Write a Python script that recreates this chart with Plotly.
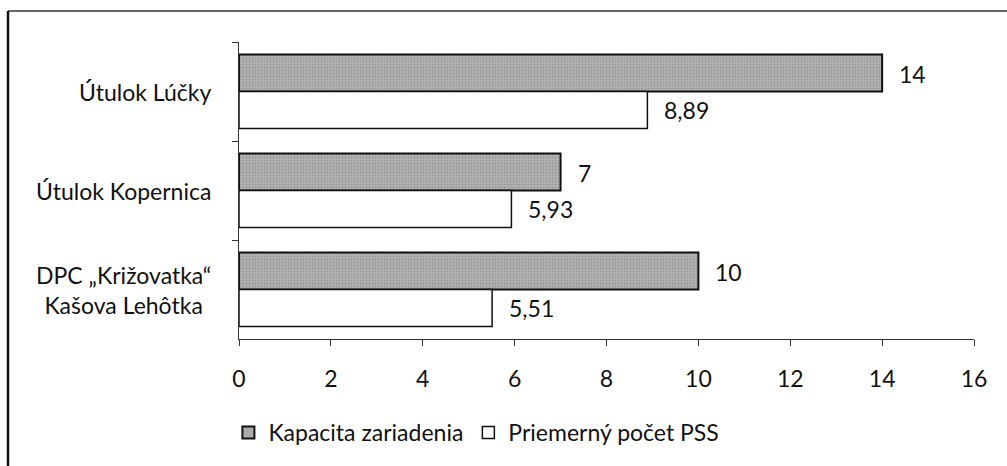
import plotly.graph_objects as go

categories = ["Útulok Lúčky", "Útulok Kopernica", "DPC „Križovatka“<br>Kašova Lehôtka"]
series_names = ["Kapacita zariadenia", "Priemerný počet PSS"]
kapacita = [14, 7, 10]
priemer = [8.89, 5.93, 5.51]
x_ticks = [0, 2, 4, 6, 8, 10, 12, 14, 16]

FONT = "Lato"
fs = 23

def fmt(v):
    s = f"{v:g}"
    return s.replace(".", ",")

fig = go.Figure()
fig.add_trace(go.Bar(
    y=categories, x=kapacita, orientation="h", name=series_names[0],
    marker=dict(color="#a9a9a9", line=dict(color="#111", width=2),
                pattern=dict(shape=".", bgcolor="#b4b4b4", fgcolor="#7a7a7a", size=3, solidity=0.35)),
))
fig.add_trace(go.Bar(
    y=categories, x=priemer, orientation="h", name=series_names[1],
    marker=dict(color="white", line=dict(color="#111", width=1.5)),
))

annotations = []
for cat, v in zip(categories, kapacita):
    annotations.append(dict(x=v, y=cat, xref="x", yref="y", text=fmt(v), showarrow=False,
                            xanchor="left", xshift=15, yshift=18, font=dict(family=FONT, size=fs, color="#111")))
for cat, v in zip(categories, priemer):
    annotations.append(dict(x=v, y=cat, xref="x", yref="y", text=fmt(v), showarrow=False,
                            xanchor="left", xshift=15, yshift=-18, font=dict(family=FONT, size=fs, color="#111")))
for cat in categories:
    annotations.append(dict(x=0, y=cat, xref="paper", yref="y", text=cat, showarrow=False,
                            xanchor="right", xshift=-26, align="center",
                            font=dict(family=FONT, size=fs, color="#111")))

fig.update_layout(
    width=1007, height=466,
    margin=dict(l=239, r=33, t=42, b=127),
    paper_bgcolor="white", plot_bgcolor="white",
    barmode="group", bargap=0.255, bargroupgap=0,
    font=dict(family=FONT, size=fs, color="#111"),
    showlegend=True,
    legend=dict(orientation="h", x=0.323, xanchor="center", y=-0.315, yanchor="middle",
                font=dict(family=FONT, size=fs, color="#111"), itemwidth=30, traceorder="normal"),
    annotations=annotations,
    shapes=[
        dict(type="line", xref="paper", yref="paper", x0=(8 - 239) / 735, x1=1.2,
             y0=(339 - 11) / 297, y1=(339 - 11) / 297, line=dict(color="#333", width=1.5)),
        dict(type="line", xref="paper", yref="paper", x0=(8 - 239) / 735, x1=(8 - 239) / 735,
             y0=(339 - 11) / 297, y1=-0.6, line=dict(color="#111", width=2.5)),
    ],
)
fig.update_xaxes(range=[0, 16], tickvals=x_ticks, ticktext=[str(t) for t in x_ticks],
                 showgrid=False, zeroline=False, showline=True, linecolor="#333", linewidth=1.2,
                 ticks="outside", ticklen=6, tickcolor="#333", ticklabelstandoff=13,
                 tickfont=dict(family=FONT, size=fs, color="#111"))
fig.update_yaxes(autorange="reversed", showgrid=False, showline=True, linecolor="#333", linewidth=1.2,
                 ticks="outside", tickson="boundaries", ticklen=6, tickcolor="#333",
                 showticklabels=False)

fig.write_html("out.html", config={"displayModeBar": False},
               post_script="document.body.style.margin='0';document.body.style.overflow='hidden';")
